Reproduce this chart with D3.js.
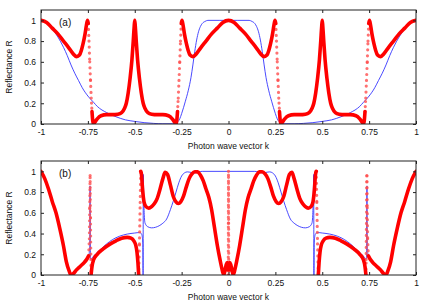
<!DOCTYPE html>
<html>
<head>
<meta charset="utf-8">
<script src="https://cdn.jsdelivr.net/npm/d3@7"></script>
<style>
body { margin: 0; background: #fff; }
svg { display: block; font-family: "Liberation Sans", Arial, sans-serif; }
</style>
</head>
<body>
<svg id="chart" width="431" height="302"></svg>
<script>
// tick values and labels
const kTicks = [-1, -0.75, -0.5, -0.25, 0, 0.25, 0.5, 0.75, 1];
const kTickLabels = ["-1", "-0.75", "-0.5", "-0.25", "0", "0.25", "0.5", "0.75", "1"];
const rTicks = [0, 0.2, 0.4, 0.6, 0.8, 1];
const rTickLabels = ["0", "0.2", "0.4", "0.6", "0.8", "1"];

// panel (a), red points
const aRedK = [-1, -0.97, -0.94, -0.91, -0.88, -0.85, -0.83, -0.81, -0.795, -0.785, -0.775, -0.765, -0.758, -0.752, -0.748, -0.744, -0.74, -0.736, -0.732, -0.728, -0.724, -0.72, -0.712, -0.7, -0.68, -0.65, -0.62, -0.59, -0.57, -0.555, -0.545, -0.535, -0.525, -0.515, -0.508, -0.503, -0.5, -0.497, -0.492, -0.485, -0.475, -0.465, -0.455, -0.445, -0.43, -0.41, -0.38, -0.35, -0.32, -0.3, -0.288, -0.28, -0.276, -0.272, -0.268, -0.264, -0.26, -0.256, -0.252, -0.248, -0.242, -0.235, -0.225, -0.215, -0.205, -0.19, -0.17, -0.15, -0.12, -0.09, -0.06, -0.03, 0,
  0.03, 0.06, 0.09, 0.12, 0.15, 0.17, 0.19, 0.205, 0.215, 0.225, 0.235, 0.242, 0.248, 0.252, 0.256, 0.26, 0.264, 0.268, 0.272, 0.276, 0.28, 0.288, 0.3, 0.32, 0.35, 0.38, 0.41, 0.43, 0.445, 0.455, 0.465, 0.475, 0.485, 0.492, 0.497, 0.5, 0.503, 0.508, 0.515, 0.525, 0.535, 0.545, 0.555, 0.57, 0.59, 0.62, 0.65, 0.68, 0.7, 0.712, 0.72, 0.724, 0.728, 0.732, 0.736, 0.74, 0.744, 0.748, 0.752, 0.758, 0.765, 0.775, 0.785, 0.795, 0.81, 0.83, 0.85, 0.88, 0.91, 0.94, 0.97, 1];
const aRedR = [1, 0.98, 0.925, 0.87, 0.8, 0.73, 0.68, 0.65, 0.665, 0.71, 0.78, 0.87, 0.95, 1, 0.97, 0.8, 0.6, 0.42, 0.25, 0.12, 0.03, 0, 0.02, 0.05, 0.08, 0.09, 0.09, 0.095, 0.11, 0.15, 0.2, 0.3, 0.44, 0.62, 0.8, 0.94, 1, 0.94, 0.8, 0.62, 0.44, 0.3, 0.2, 0.15, 0.11, 0.095, 0.09, 0.09, 0.08, 0.05, 0.02, 0, 0.03, 0.12, 0.25, 0.42, 0.6, 0.8, 0.97, 1, 0.95, 0.87, 0.78, 0.71, 0.665, 0.65, 0.68, 0.73, 0.8, 0.87, 0.925, 0.98, 1,
  0.98, 0.925, 0.87, 0.8, 0.73, 0.68, 0.65, 0.665, 0.71, 0.78, 0.87, 0.95, 1, 0.97, 0.8, 0.6, 0.42, 0.25, 0.12, 0.03, 0, 0.02, 0.05, 0.08, 0.09, 0.09, 0.095, 0.11, 0.15, 0.2, 0.3, 0.44, 0.62, 0.8, 0.94, 1, 0.94, 0.8, 0.62, 0.44, 0.3, 0.2, 0.15, 0.11, 0.095, 0.09, 0.09, 0.08, 0.05, 0.02, 0, 0.03, 0.12, 0.25, 0.42, 0.6, 0.8, 0.97, 1, 0.95, 0.87, 0.78, 0.71, 0.665, 0.65, 0.68, 0.73, 0.8, 0.87, 0.925, 0.98, 1];

// panel (a), blue line
const aBlueK = [-1, -0.97, -0.94, -0.91, -0.88, -0.86, -0.84, -0.82, -0.8, -0.78, -0.75, -0.72, -0.7, -0.65, -0.6, -0.55, -0.5, -0.45, -0.4, -0.35, -0.3, -0.28, -0.26, -0.25, -0.23, -0.215, -0.2, -0.19, -0.18, -0.17, -0.16, -0.15, -0.14, -0.125, -0.11, -0.05, 0,
  0.05, 0.11, 0.125, 0.14, 0.15, 0.16, 0.17, 0.18, 0.19, 0.2, 0.215, 0.23, 0.25, 0.26, 0.28, 0.3, 0.35, 0.4, 0.45, 0.5, 0.55, 0.6, 0.65, 0.7, 0.72, 0.75, 0.78, 0.8, 0.82, 0.84, 0.86, 0.88, 0.91, 0.94, 0.97, 1];
const aBlueR = [1, 0.98, 0.92, 0.84, 0.74, 0.66, 0.57, 0.49, 0.42, 0.35, 0.27, 0.21, 0.17, 0.11, 0.07, 0.04, 0.025, 0.013, 0.006, 0.002, 0.002, 0.01, 0.05, 0.1, 0.22, 0.32, 0.45, 0.57, 0.7, 0.81, 0.89, 0.94, 0.97, 0.99, 1, 1, 1,
  1, 1, 0.99, 0.97, 0.94, 0.89, 0.81, 0.7, 0.57, 0.45, 0.32, 0.22, 0.1, 0.05, 0.01, 0.002, 0.002, 0.006, 0.013, 0.025, 0.04, 0.07, 0.11, 0.17, 0.21, 0.27, 0.35, 0.42, 0.49, 0.57, 0.66, 0.74, 0.84, 0.92, 0.98, 1];

// panel (b), red points
const bRedK = [-1, -0.98, -0.96, -0.94, -0.92, -0.9, -0.88, -0.865, -0.85, -0.84, -0.83, -0.81, -0.79, -0.77, -0.755, -0.746, -0.742, -0.74, -0.738, -0.736, -0.734, -0.733, -0.728, -0.72, -0.7, -0.67, -0.63, -0.6, -0.57, -0.54, -0.52, -0.505, -0.495, -0.488, -0.483, -0.479, -0.475, -0.471, -0.468, -0.464, -0.458, -0.45, -0.44, -0.425, -0.41, -0.395, -0.38, -0.365, -0.35, -0.338, -0.325, -0.31, -0.295, -0.28, -0.268, -0.255, -0.24, -0.225, -0.21, -0.195, -0.18, -0.165, -0.15, -0.135, -0.12, -0.105, -0.09, -0.075, -0.06, -0.045, -0.035, -0.025, -0.018, -0.012, -0.006, -0.003, -0.0015, -0.0007, 0,
  0.0007, 0.0015, 0.003, 0.006, 0.012, 0.018, 0.025, 0.035, 0.045, 0.06, 0.075, 0.09, 0.105, 0.12, 0.135, 0.15, 0.165, 0.18, 0.195, 0.21, 0.225, 0.24, 0.255, 0.268, 0.28, 0.295, 0.31, 0.325, 0.338, 0.35, 0.365, 0.38, 0.395, 0.41, 0.425, 0.44, 0.45, 0.458, 0.464, 0.468, 0.471, 0.475, 0.479, 0.483, 0.488, 0.495, 0.505, 0.52, 0.54, 0.57, 0.6, 0.63, 0.67, 0.7, 0.72, 0.728, 0.733, 0.734, 0.736, 0.738, 0.74, 0.742, 0.746, 0.755, 0.77, 0.79, 0.81, 0.83, 0.84, 0.85, 0.865, 0.88, 0.9, 0.92, 0.94, 0.96, 0.98, 1];
const bRedR = [1, 0.93, 0.83, 0.71, 0.6, 0.45, 0.28, 0.13, 0.04, 0, 0.01, 0.05, 0.085, 0.12, 0.155, 0.185, 0.35, 0.65, 0.96, 0.55, 0.15, 0, 0.08, 0.145, 0.2, 0.25, 0.3, 0.33, 0.355, 0.363, 0.355, 0.33, 0.29, 0.22, 0.12, 0, 0.3, 0.7, 1, 0.97, 0.82, 0.7, 0.66, 0.645, 0.66, 0.69, 0.74, 0.83, 0.93, 0.99, 0.97, 0.87, 0.76, 0.705, 0.69, 0.705, 0.76, 0.85, 0.93, 0.975, 0.997, 0.995, 0.965, 0.91, 0.83, 0.75, 0.63, 0.46, 0.29, 0.145, 0.06, 0, 0.05, 0.1, 0.12, 0.05, 0, 0.5, 1,
  0.5, 0, 0.05, 0.12, 0.1, 0.05, 0, 0.06, 0.145, 0.29, 0.46, 0.63, 0.75, 0.83, 0.91, 0.965, 0.995, 0.997, 0.975, 0.93, 0.85, 0.76, 0.705, 0.69, 0.705, 0.76, 0.87, 0.97, 0.99, 0.93, 0.83, 0.74, 0.69, 0.66, 0.645, 0.66, 0.7, 0.82, 0.97, 1, 0.7, 0.3, 0, 0.12, 0.22, 0.29, 0.33, 0.355, 0.363, 0.355, 0.33, 0.3, 0.25, 0.2, 0.145, 0.08, 0, 0.15, 0.55, 0.96, 0.65, 0.35, 0.185, 0.155, 0.12, 0.085, 0.05, 0.01, 0, 0.04, 0.13, 0.28, 0.45, 0.6, 0.71, 0.83, 0.93, 1];

// panel (b), blue line
const bBlueK = [-1, -0.98, -0.96, -0.94, -0.92, -0.9, -0.88, -0.865, -0.85, -0.84, -0.83, -0.81, -0.79, -0.77, -0.755, -0.745, -0.741, -0.739, -0.7385, -0.7375, -0.736, -0.733, -0.725, -0.71, -0.68, -0.65, -0.62, -0.58, -0.54, -0.5, -0.475, -0.465, -0.46, -0.457, -0.4555, -0.4545, -0.452, -0.449, -0.445, -0.43, -0.41, -0.39, -0.37, -0.35, -0.33, -0.31, -0.295, -0.28, -0.265, -0.25, -0.235, -0.22, -0.2, -0.18, -0.16, -0.14, 0,
  0.14, 0.16, 0.18, 0.2, 0.22, 0.235, 0.25, 0.265, 0.28, 0.295, 0.31, 0.33, 0.35, 0.37, 0.39, 0.41, 0.43, 0.445, 0.449, 0.452, 0.4545, 0.4555, 0.457, 0.46, 0.465, 0.475, 0.5, 0.54, 0.58, 0.62, 0.65, 0.68, 0.71, 0.725, 0.733, 0.736, 0.7375, 0.7385, 0.739, 0.741, 0.745, 0.755, 0.77, 0.79, 0.81, 0.83, 0.84, 0.85, 0.865, 0.88, 0.9, 0.92, 0.94, 0.96, 0.98, 1];
const bBlueR = [1, 0.93, 0.83, 0.71, 0.6, 0.45, 0.28, 0.13, 0.04, 0, 0.01, 0.05, 0.085, 0.12, 0.15, 0.19, 0.25, 0.5, 0.86, 0.5, 0.17, 0.15, 0.17, 0.2, 0.25, 0.3, 0.34, 0.375, 0.395, 0.405, 0.41, 0.4, 0.37, 0.3, 0, 0.97, 0.75, 0.57, 0.5, 0.465, 0.455, 0.46, 0.475, 0.5, 0.54, 0.63, 0.71, 0.8, 0.89, 0.955, 0.985, 0.995, 0.99, 0.985, 0.995, 1, 1,
  1, 0.995, 0.985, 0.99, 0.995, 0.985, 0.955, 0.89, 0.8, 0.71, 0.63, 0.54, 0.5, 0.475, 0.46, 0.455, 0.465, 0.5, 0.57, 0.75, 0.97, 0, 0.3, 0.37, 0.4, 0.41, 0.405, 0.395, 0.375, 0.34, 0.3, 0.25, 0.2, 0.17, 0.15, 0.17, 0.5, 0.86, 0.5, 0.25, 0.19, 0.15, 0.12, 0.085, 0.05, 0.01, 0, 0.04, 0.13, 0.28, 0.45, 0.6, 0.71, 0.83, 0.93, 1];

const svg = d3.select("#chart");
const x = d3.scaleLinear().domain([-1, 1]).range([41, 416]);
const fontSize = 8.5;
// horizontal pixel spacing of the sampled points, used to spread the dots on steep parts
const sampleStep = 0.28;

function drawRed(g, y, ks, rs) {
    const pts = ks.map((k, i) => [x(k), y(rs[i])]);
    const runs = [];
    let run = [pts[0]];
    const dots = g.append("g");
    for (let i = 1; i < pts.length; i++) {
        const [x0, y0] = pts[i - 1];
        const [x1, y1] = pts[i];
        const gap = sampleStep * Math.hypot(x1 - x0, y1 - y0) / Math.max(x1 - x0, 0.001);
        if (gap > 4.8) {
            if (run.length > 1) runs.push(run);
            dots.append("line")
                .attr("x1", x0).attr("y1", y0)
                .attr("x2", x1).attr("y2", y1)
                .attr("stroke", "#ff4d4d")
                .attr("stroke-opacity", 0.8)
                .attr("stroke-width", 3.2)
                .attr("stroke-linecap", "round")
                .attr("stroke-dasharray", `0,${Math.min(gap, 6)}`);
            run = [pts[i]];
        } else {
            run.push(pts[i]);
        }
    }
    if (run.length > 1) runs.push(run);

    const line = d3.line().curve(d3.curveMonotoneX);
    g.selectAll("path.red")
        .data(runs)
        .enter()
        .append("path")
        .attr("class", "red")
        .attr("d", line)
        .attr("fill", "none")
        .attr("stroke", "#ff0000")
        .attr("stroke-width", 3.6)
        .attr("stroke-linecap", "round")
        .attr("stroke-linejoin", "round");
}

function drawPanel(top, label, blueK, blueR, redK, redR, id) {
    const bottom = top + 114;
    const y = d3.scaleLinear().domain([0, 1.1]).range([bottom, top]);

    svg.append("clipPath").attr("id", id)
        .append("rect")
        .attr("x", 41).attr("y", top)
        .attr("width", 375).attr("height", bottom - top);

    const plot = svg.append("g").attr("clip-path", `url(#${id})`);

    const blueLine = d3.line()
        .x((d, i) => x(blueK[i]))
        .y(d => y(d))
        .curve(d3.curveMonotoneX);
    plot.append("path")
        .attr("d", blueLine(blueR))
        .attr("fill", "none")
        .attr("stroke", "#3535ff")
        .attr("stroke-width", 0.9);

    drawRed(plot, y, redK, redR);

    // axes: ticks point inward on all four sides
    const axisText = g => {
        g.select(".domain").remove();
        g.selectAll("line").attr("stroke", "#222");
        g.selectAll("text").attr("font-size", fontSize).attr("fill", "#111")
            .attr("font-family", "'Liberation Sans', Arial, sans-serif");
    };
    svg.append("g").attr("transform", `translate(0,${bottom})`)
        .call(d3.axisBottom(x).tickValues(kTicks).tickFormat((d, i) => kTickLabels[i])
            .tickSizeInner(-3).tickSizeOuter(0).tickPadding(5))
        .call(axisText);
    svg.append("g").attr("transform", `translate(0,${top})`)
        .call(d3.axisTop(x).tickValues(kTicks).tickFormat("")
            .tickSizeInner(-3).tickSizeOuter(0))
        .call(axisText);
    svg.append("g").attr("transform", "translate(41,0)")
        .call(d3.axisLeft(y).tickValues(rTicks).tickFormat((d, i) => rTickLabels[i])
            .tickSizeInner(-3).tickSizeOuter(0).tickPadding(5))
        .call(axisText);
    svg.append("g").attr("transform", "translate(416,0)")
        .call(d3.axisRight(y).tickValues(rTicks).tickFormat("")
            .tickSizeInner(-3).tickSizeOuter(0))
        .call(axisText);

    svg.append("rect")
        .attr("x", 41).attr("y", top)
        .attr("width", 375).attr("height", bottom - top)
        .attr("fill", "none")
        .attr("stroke", "#222")
        .attr("stroke-width", 1);

    svg.append("text")
        .attr("x", 228.5).attr("y", bottom + 24.5)
        .attr("text-anchor", "middle")
        .attr("font-size", fontSize)
        .attr("fill", "#111")
        .text("Photon wave vector k");

    svg.append("text")
        .attr("transform", `translate(12,${(top + bottom) / 2}) rotate(-90)`)
        .attr("text-anchor", "middle")
        .attr("font-size", fontSize)
        .attr("fill", "#111")
        .text("Reflectance R");

    svg.append("text")
        .attr("x", 59).attr("y", top + 15.5)
        .attr("font-size", 10)
        .attr("fill", "#111")
        .text(label);
}

drawPanel(10, "(a)", aBlueK, aBlueR, aRedK, aRedR, "clipA");
drawPanel(161, "(b)", bBlueK, bBlueR, bRedK, bRedR, "clipB");
</script>
</body>
</html>
